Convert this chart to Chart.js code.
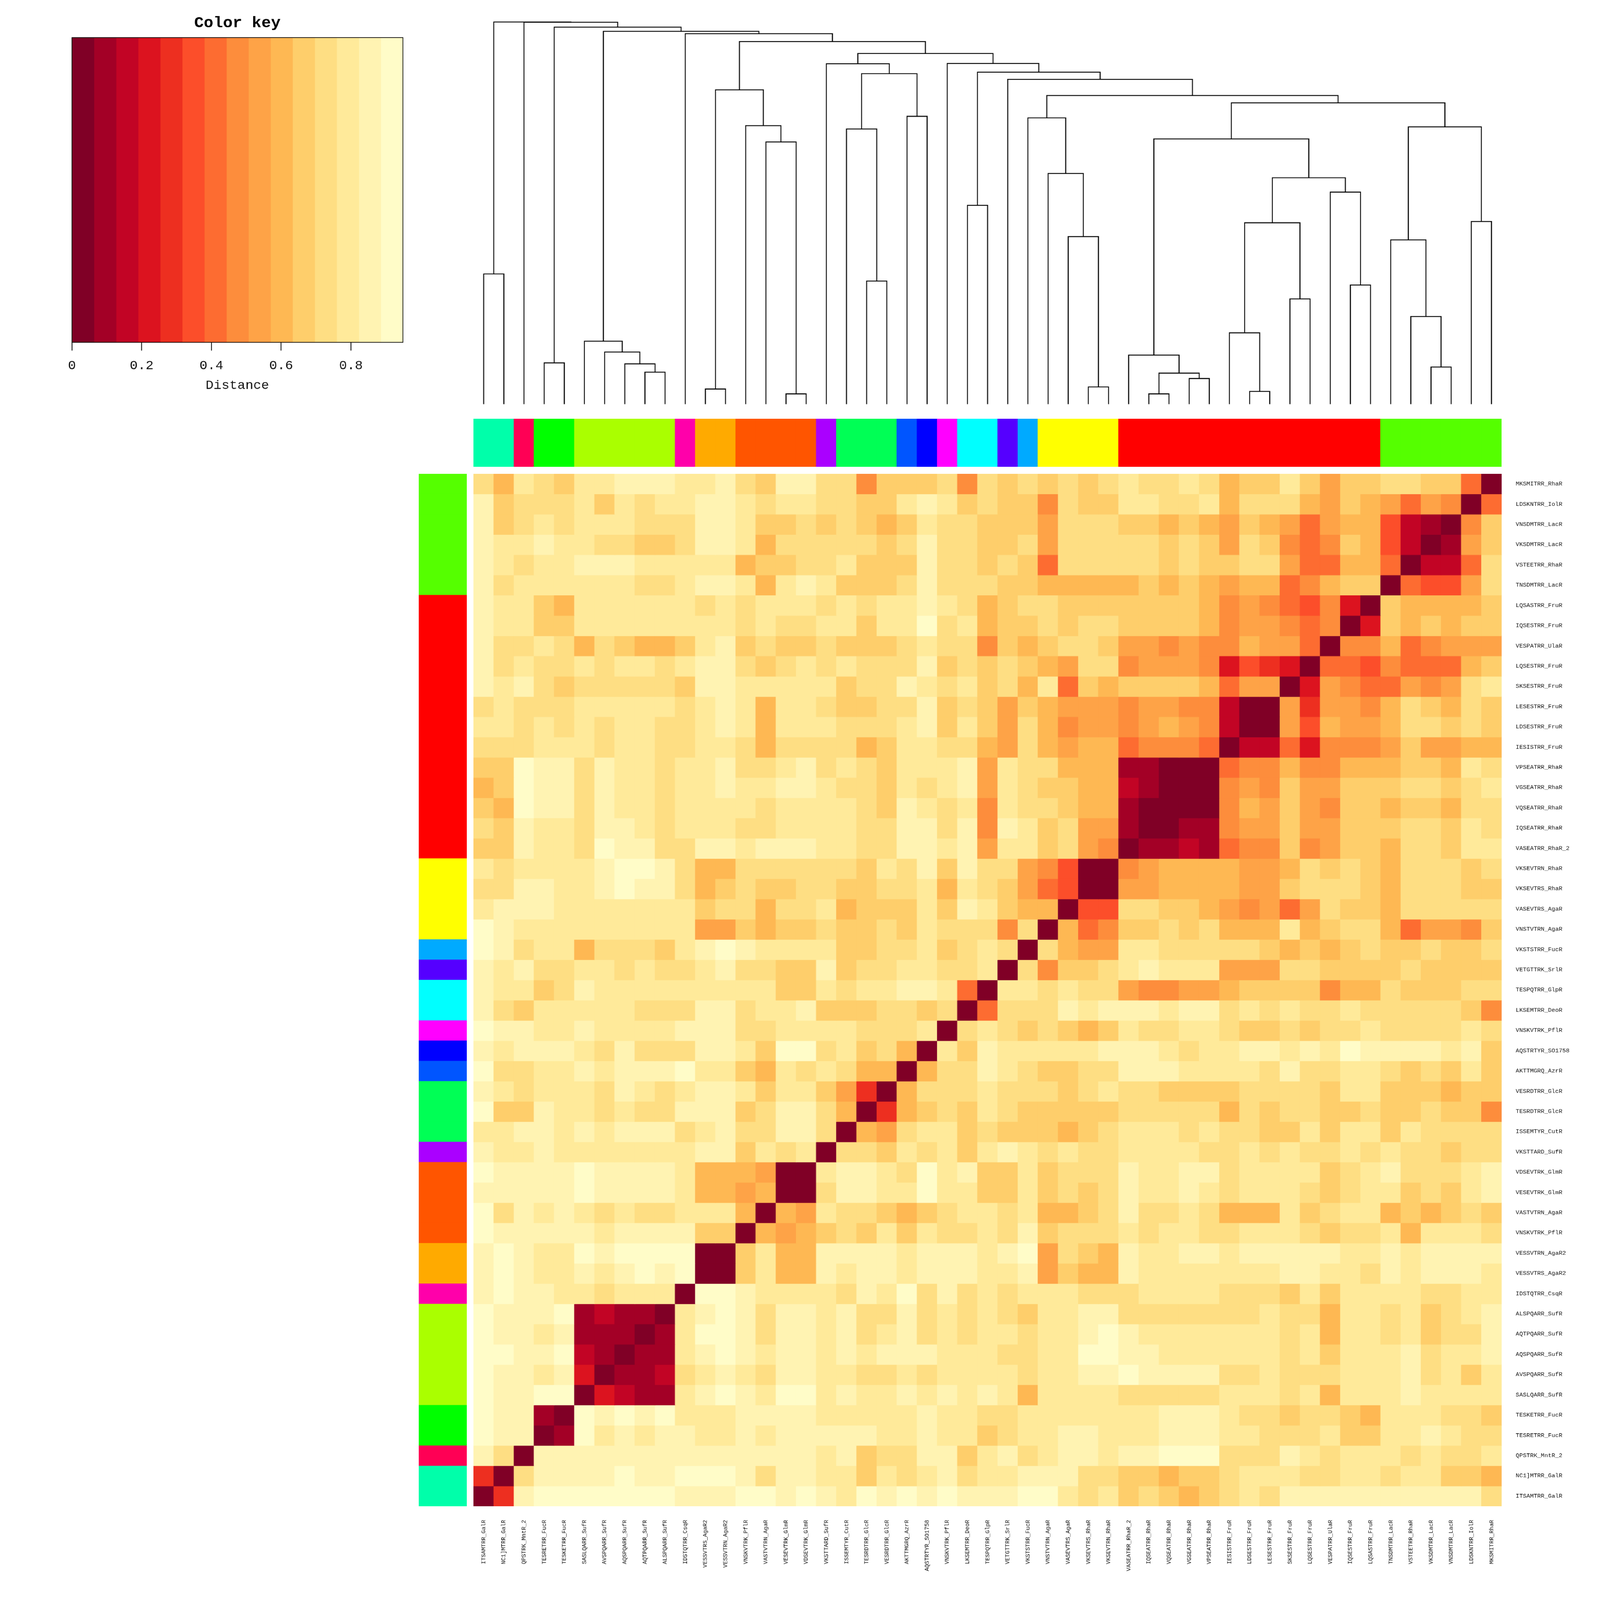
<!DOCTYPE html>
<html><head><meta charset="utf-8"><title>Heatmap</title>
<style>html,body{margin:0;padding:0;background:#fff;overflow:hidden;width:100%;height:100%}#page{position:absolute;left:0;top:0;width:7500px;height:7875px;background:#fff;transform-origin:0 0}canvas{position:absolute}</style>
<script src="https://cdn.jsdelivr.net/npm/chart.js@4"></script>
</head><body><div id="page"></div>
<script>
// Row labels, top to bottom (columns carry the same labels in reverse order)
const rowLabels = ["MKSMITRR_RhaR","LDSKNTRR_IolR","VNSDMTRR_LacR","VKSDMTRR_LacR","VSTEETRR_RhaR","TNSDMTRR_LacR","LQSASTRR_FruR","IQSESTRR_FruR","VESPATRR_UlaR","LQSESTRR_FruR","SKSESTRR_FruR","LESESTRR_FruR","LDSESTRR_FruR","IESISTRR_FruR","VPSEATRR_RhaR","VGSEATRR_RhaR","VQSEATRR_RhaR","IQSEATRR_RhaR","VASEATRR_RhaR_2","VKSEVTRN_RhaR","VKSEVTRS_RhaR","VASEVTRS_AgaR","VNSTVTRN_AgaR","VKSTSTRR_FucR","VETGTTRK_SrlR","TESPQTRR_GlpR","LKSEMTRR_DeoR","VNSKVTRK_PflR","AQSTRTYR_SO1758","AKTTMGRQ_AzrR","VESRDTRR_GlcR","TESRDTRR_GlcR","ISSEMTYR_CutR","VKSTTARD_SufR","VDSEVTRK_GlmR","VESEVTRK_GlmR","VASTVTRN_AgaR","VNSKVTRK_PflR","VESSVTRN_AgaR2","VESSVTRS_AgaR2","IDSTQTRR_CsqR","ALSPQARR_SufR","AQTPQARR_SufR","AQSPQARR_SufR","AVSPQARR_SufR","SASLQARR_SufR","TESKETRR_FucR","TESRETRR_FucR","QPSTRK_MntR_2","NC1]MTRR_GalR","ITSAMTRR_GalR"];
const columnLabels = rowLabels.slice().reverse();

// Distance matrix, as colour-key bin (0 = darkest .. 14 = palest). Symmetric: upper-left triangle as read.
const distanceBins = [
[11,9,12,11,10,12,12,13,13,13,12,12,13,11,10,13,13,11, 11,7,10,10,10,11,7,11,10,11,10,11,10,11,12,11,11,12, 11,9,10,10,12,10,8,10,10,11,11,10,10,6,0],
[13,10,11,11,11,12,10,12,11,12,12,13,13,12,11,12,12,11, 11,10,10,12,13,12,10,11,10,10,7,11,10,10,12,12,11,11, 12,9,11,11,11,9,8,10,9,8,6,8,7,0],
[13,10,11,12,11,12,12,12,11,11,11,13,13,12,10,10,11,10, 11,10,9,10,12,11,11,10,10,10,8,11,11,11,10,10,9,10, 9,8,10,9,8,6,8,9,9,5,2,1,0],
[13,12,12,13,12,12,11,11,10,10,11,13,13,12,9,11,11,11, 11,11,10,11,13,11,11,10,10,11,8,11,11,11,11,11,10,11, 10,8,11,10,7,6,7,10,9,5,2,0],
[13,12,11,12,12,13,13,13,12,12,12,12,12,9,10,10,11,11, 12,10,10,10,13,11,11,10,11,10,6,11,11,11,11,11,10,11, 10,10,11,11,8,6,6,9,9,6,0],
[13,11,12,12,12,12,12,12,11,11,12,13,13,12,9,12,13,12, 10,10,10,11,13,11,11,11,10,10,9,9,9,9,9,10,9,10, 9,8,9,9,6,7,9,10,10,0],
[13,12,12,10,9,12,12,12,12,12,12,11,12,11,12,12,12,11, 12,11,12,12,13,12,11,9,10,11,11,10,10,10,10,10,10,10, 9,7,8,7,6,5,7,3,0],
[13,12,12,10,10,12,12,12,12,12,12,12,12,11,12,11,11,12, 12,10,12,12,14,11,12,9,10,10,11,10,11,11,10,10,10,10, 9,7,8,8,7,6,7,0],
[13,11,11,12,11,9,11,10,9,9,10,12,13,10,11,10,10,11, 10,10,10,11,12,11,11,7,10,9,10,11,11,10,8,8,7,8, 7,7,9,8,8,6,0],
[13,11,12,11,11,12,11,12,12,11,12,13,13,11,10,11,12,11, 12,11,11,11,13,10,11,10,11,10,9,8,11,11,7,8,8,8, 7,3,5,4,3,0],
[13,12,13,11,10,11,11,11,11,11,10,13,13,12,12,12,12,12, 10,11,11,13,12,11,12,10,11,9,12,6,10,9,10,10,10,10, 9,6,8,8,0],
[11,12,11,11,11,12,12,12,12,12,11,12,13,12,9,12,12,11, 10,10,11,11,13,10,11,10,8,10,9,8,8,8,7,8,8,7, 7,2,0,0],
[12,12,11,12,11,12,11,12,12,11,11,12,13,12,9,12,12,12, 11,11,11,12,13,10,12,10,8,11,9,7,8,8,7,8,9,8, 7,2,0],
[11,11,11,12,12,12,11,12,12,11,11,12,12,11,9,11,11,11, 11,9,10,12,12,11,11,9,8,11,9,8,9,9,6,7,7,7, 6,0],
[10,10,14,13,13,11,13,12,12,11,12,12,13,11,11,12,13,11, 12,11,10,12,12,12,13,8,12,11,11,9,9,9,1,1,0,0, 0],
[9,10,14,13,13,11,13,12,12,11,12,12,13,12,12,13,13,12, 11,11,10,12,11,12,13,8,12,11,10,10,9,9,2,1,0,0],
[10,9,14,13,13,11,13,12,12,11,12,12,12,12,11,12,12,12, 12,11,10,13,12,11,12,7,12,11,11,10,9,9,1,0,0],
[11,10,13,12,12,11,13,13,12,11,12,12,12,11,11,12,12,12, 12,11,11,13,13,11,13,7,13,12,10,11,8,8,1,0],
[10,10,13,12,12,11,14,13,13,11,11,13,13,12,13,13,13,12, 12,11,11,13,13,12,13,8,12,12,10,11,8,7,0],
[12,11,12,12,12,12,13,14,14,13,11,9,9,11,11,11,11,11, 11,10,12,11,13,10,13,11,11,8,7,5,0,0],
[11,11,13,13,12,12,13,14,13,13,11,9,10,11,10,10,11,11, 10,10,11,11,12,9,12,11,10,8,6,5,0],
[12,13,13,13,12,12,12,12,12,12,12,10,11,11,9,11,11,12, 9,10,10,10,12,10,13,12,10,9,9,0],
[14,13,12,12,12,12,12,12,12,12,12,8,8,10,9,10,10,11, 10,10,11,10,12,11,11,11,7,11,0],
[14,13,11,12,12,9,11,11,11,10,12,13,14,13,12,12,12,12, 10,10,11,11,12,10,11,12,11,0],
[13,12,13,11,11,12,12,11,12,11,11,12,13,11,11,10,10,13, 10,11,11,12,12,11,11,12,0],
[13,12,12,10,11,13,12,12,12,12,12,12,12,12,12,10,10,12, 11,12,12,13,13,12,6,0],
[13,11,10,12,12,12,12,12,11,11,11,13,13,11,12,12,13,10, 10,10,11,11,10,11,0],
[14,13,13,12,12,13,12,12,12,12,13,13,13,11,11,12,12,12, 12,11,11,11,12,0],
[13,12,13,13,13,12,11,13,11,11,11,13,13,12,10,14,14,11, 12,10,11,9,0],
[14,11,11,12,12,13,12,13,13,13,14,12,12,10,9,12,11,12, 11,9,9,0],
[13,12,11,12,12,12,11,13,12,11,12,13,13,12,10,12,12,10, 8,4,0],
[14,10,10,13,12,12,11,12,11,11,13,13,13,10,11,13,13,11, 9,0],
[12,12,13,13,12,13,12,13,13,13,11,12,13,11,11,13,13,11, 0],
[13,12,12,13,12,12,12,12,12,12,12,13,13,10,12,11,12,0],
[14,13,13,13,13,14,13,13,13,13,12,9,9,9,8,0,0],
[13,13,13,13,13,14,13,13,13,13,12,9,9,8,9,0],
[14,11,13,12,13,12,11,12,11,11,12,12,12,9,0],
[14,13,13,13,13,13,12,13,13,13,13,10,10,0],
[13,14,13,12,12,14,13,14,14,14,14,0,0],
[13,14,13,12,12,13,12,13,14,13,14,0],
[13,14,13,13,12,12,11,12,12,12,0],
[14,13,13,13,14,1,2,1,1,0],
[14,13,13,12,13,1,1,1,0],
[14,14,13,13,14,2,1,0],
[14,13,13,12,13,3,0],
[14,13,13,14,14,0],
[14,13,13,1,0],
[14,13,13,0],
[13,11,0],
[4,0],
[0]
];

// Colour key
const keyColors = ["#800026","#A30026","#C20425","#DC131F","#ED2F20","#FC4E2A","#FD6C31","#FD8D3C","#FEA347","#FEB853","#FECE6B","#FEDE83","#FFEA9A","#FFF3B2","#FFFCC8"];
const keyMax = 0.949;
const keyBinCount = 15;

// Cluster side-colour groups, top to bottom
const groupColors = ["#55FF00","#FF0000","#FFFF00","#00AAFF","#5500FF","#00FFFF","#FF00FF","#0000FF","#0055FF","#00FF55","#AA00FF","#FF5500","#FFAA00","#FF00AA","#AAFF00","#00FF00","#FF0055","#00FFAA"];
const groupSizes  = [6,13,4,1,1,2,1,1,1,3,1,4,2,1,5,2,1,2];

// Dendrogram in hclust form: [a, b, height]; negative = leaf number (from left), positive = merge number
const dendroMerges = [
[-1,-2,433],[-4,-5,137],[-9,-10,106],[-8,3,134],[-7,4,173],[-6,5,209],[-12,-13,50],[-16,-17,34],[-15,8,872],[-14,9,926],
[7,10,1045],[-20,-21,409],[-19,12,915],[-22,-23,957],[13,14,1099],[-18,15,1132],[-25,-26,661],[-31,-32,57],[-30,18,557],[-29,19,767],
[-28,20,952],[-34,-35,34],[-36,-37,85],[22,23,103],[-33,24,163],[-39,-40,42],[-38,26,237],[-41,-42,350],[27,28,603],[-44,-45,396],
[-43,30,705],[29,31,753],[25,32,882],[-48,-49,123],[-47,34,291],[-46,35,546],[-50,-51,607],[36,37,922],[33,38,1002],[21,39,1026],
[-27,40,1080],[17,41,1104],[-24,42,1133],[16,43,1166],[11,44,1206],[-11,45,1232],[6,46,1240],[2,47,1254],[-3,48,1270],[1,49,1271]
];

const N = rowLabels.length;
function bin(r,c){ return (r+c<=N-1) ? distanceBins[r][c] : distanceBins[N-1-c][N-1-r]; }
const rowGroupColor = []; groupSizes.forEach((s,g)=>{ for(let i=0;i<s;i++) rowGroupColor.push(groupColors[g]); });
const colGroupColor = rowGroupColor.slice().reverse();

// Fit the 7500x7875 drawing into whatever window the browser really gave
const PAGE_W=7500, PAGE_H=7875;
const fitX=Math.min(1,window.innerWidth/PAGE_W), fitY=Math.min(1,window.innerHeight/PAGE_H);
const page = document.getElementById('page');
page.style.transform='scale('+fitX+','+fitY+')';

Chart.defaults.animation = false;
Chart.defaults.font.family = '"Liberation Mono", monospace';
Chart.defaults.color = '#000';
const MONO = '"Liberation Mono", monospace';
function mk(left,top,w,h){ const c=document.createElement('canvas'); c.width=w;c.height=h;
  c.style.left=left+'px';c.style.top=top+'px';page.appendChild(c);return c; }
const base = {responsive:false,devicePixelRatio:Math.max(fitX,fitY),animation:false,
  plugins:{legend:{display:false},tooltip:{enabled:false},title:{display:false}},events:[]};
const SEAM = 1.2; // slight overlap between neighbouring cells so no hairlines show

// ---- heat map ----
const plotW=4818, plotH=5081, gutter=462;
function noPad(s){s.paddingLeft=s.paddingRight=s.paddingTop=s.paddingBottom=0;}
new Chart(mk(2220,2332,plotW+gutter,plotH+gutter),{
  type:'bar',
  data:{labels:columnLabels,datasets:rowLabels.map((_,r)=>({
    yAxisID:'y',
    data:columnLabels.map(()=>[r,r+1]),
    backgroundColor:columnLabels.map((_,c)=>keyColors[bin(r,c)]),
    borderWidth:0,inflateAmount:SEAM,categoryPercentage:1,barPercentage:1,grouped:false
  }))},
  options:{...base,
    layout:{padding:0,autoPadding:false},
    scales:{
      x:{type:'category',position:'bottom',offset:true,grid:{display:false,drawTicks:false},border:{display:false},
        afterFit(s){s.height=gutter;noPad(s);},
        ticks:{autoSkip:false,minRotation:90,maxRotation:90,padding:67,font:{family:MONO,size:28},color:'#111'}},
      y:{type:'linear',display:false,reverse:true,min:0,max:N},
      y2:{type:'category',position:'right',labels:rowLabels,offset:true,grid:{display:false,drawTicks:false},border:{display:false},
        afterFit(s){s.width=gutter;noPad(s);},
        ticks:{autoSkip:false,padding:66,font:{family:MONO,size:28},color:'#111'}}
    }
  }
});

// ---- column colour band ----
new Chart(mk(2220,2061,plotW,236),{
  type:'bar',
  data:{labels:columnLabels,datasets:[{data:columnLabels.map(()=>1),backgroundColor:colGroupColor,borderWidth:0,inflateAmount:SEAM,categoryPercentage:1,barPercentage:1}]},
  options:{...base,scales:{x:{display:false,offset:true},y:{display:false,min:0,max:1}}}
});
// ---- row colour band ----
new Chart(mk(1963,2332,225,plotH),{
  type:'bar',
  data:{labels:rowLabels,datasets:[{data:rowLabels.map(()=>1),backgroundColor:rowGroupColor,borderWidth:0,inflateAmount:SEAM,categoryPercentage:1,barPercentage:1}]},
  options:{...base,indexAxis:'y',scales:{y:{display:false,offset:true},x:{display:false,min:0,max:1}}}
});

// ---- dendrogram ----
const pos=[]; const dendroSets=[];
function nodeOf(id){ return id<0 ? {x:-id-1,h:0} : pos[id-1]; }
dendroMerges.forEach(([a,b,h])=>{
  const A=nodeOf(a),B=nodeOf(b);
  dendroSets.push({data:[{x:A.x,y:A.h},{x:A.x,y:h},{x:B.x,y:h},{x:B.x,y:B.h}],
    showLine:true,borderColor:'#000',borderWidth:4.5,pointRadius:0,tension:0,fill:false,clip:false,borderJoinStyle:'miter',borderCapStyle:'butt'});
  pos.push({x:(A.x+B.x)/2,h});
});
new Chart(mk(2220,88,plotW,1905),{
  type:'scatter',
  data:{datasets:dendroSets},
  options:{...base,layout:{padding:{top:20,bottom:5},autoPadding:false},
    scales:{x:{type:'linear',display:false,min:-0.5,max:N-0.5},y:{type:'linear',display:false,min:0,max:1271}}}
});

// ---- colour key ----
const keyStep = keyMax/keyBinCount;
new Chart(mk(0,0,2000,2000),{
  type:'bar',
  data:{labels:[''],datasets:keyColors.map((col,i)=>({data:[[i*keyStep,(i+1)*keyStep]],backgroundColor:col,borderWidth:0,inflateAmount:SEAM,categoryPercentage:1,barPercentage:1,grouped:false}))},
  options:{...base,indexAxis:'y',
    layout:{padding:{left:337,right:112,top:0,bottom:0},autoPadding:false},
    plugins:{legend:{display:false},tooltip:{enabled:false},
      title:{display:true,text:'Color key',color:'#000',font:{family:MONO,size:75,weight:'bold',lineHeight:1.2},padding:{top:70,bottom:25}}},
    scales:{
      y:{display:false,offset:true},
      x:{type:'linear',min:0,max:keyMax,position:'bottom',
        afterFit(s){s.height=315;},
        afterBuildTicks(s){s.ticks=s.ticks.filter(t=>t.value<=0.81);},
        grid:{drawOnChartArea:false,drawTicks:true,tickLength:40,tickWidth:4,tickColor:'#000'},
        border:{display:false},
        ticks:{stepSize:0.2,padding:38,font:{family:MONO,size:62},color:'#111',maxRotation:0,includeBounds:false},
        title:{display:true,text:'Distance',color:'#111',font:{family:MONO,size:62,lineHeight:1.2},padding:{top:0,bottom:66}}}
    }
  },
  plugins:[{id:'frame',afterDatasetsDraw(ch){const a=ch.chartArea,x=ch.ctx;x.save();x.strokeStyle='#000';x.lineWidth=3.5;x.strokeRect(a.left,a.top,a.right-a.left,a.bottom-a.top);x.restore();}}]
});
</script>
</body></html>
